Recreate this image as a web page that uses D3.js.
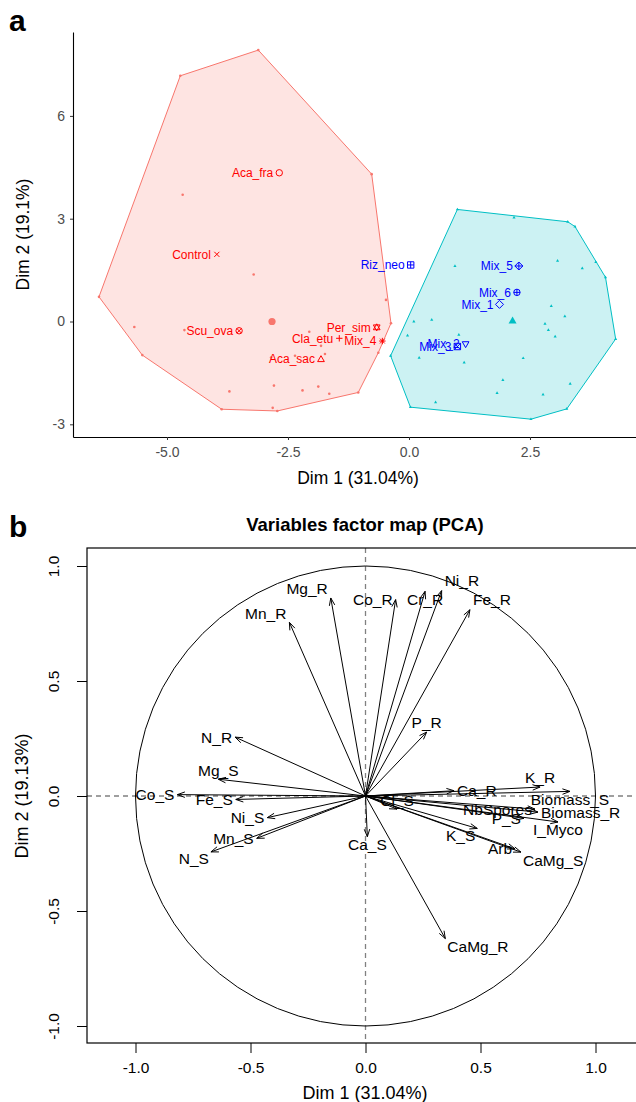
<!DOCTYPE html>
<html><head><meta charset="utf-8">
<script src="https://cdn.jsdelivr.net/npm/d3@7"></script>
<style>body{margin:0;background:#fff} text{font-family:"Liberation Sans",Arial,Helvetica,sans-serif}</style>
</head><body>
<svg id="c" width="636" height="1102"></svg>
<script>
// ---------------- Panel a data (individuals, Dim1 / Dim2) ----------------
const redIndX = [-4.725,-3.114,-0.771,-0.372,-0.634,-1.048,-2.721,-3.870,-5.510,-6.405,
  -4.676,-3.209,-5.675,-4.64,-0.475,-2.06,-1.818,-1.736,-2.355,-2.85,-2.79,-3.71,-2.20,-1.874,-1.647,-2.816];
const redIndY = [7.17,7.92,4.30,-0.05,-0.91,-2.07,-2.61,-2.56,-0.98,0.72,
  3.70,1.37,-0.16,-0.25,0.63,-0.30,-0.71,-0.95,-1.0,-1.05,-1.87,-2.04,-2.01,-1.90,-2.11,-2.52];
const blueIndX = [1.0,3.28,3.43,3.86,4.06,4.27,3.26,2.52,0.03,-0.38,
  2.17,0.95,3.07,3.58,2.94,3.22,2.81,2.88,3.02,0.10,0.47,-0.03,1.03,0.21,1.14,2.36,1.94,1.82,2.77,3.33,0.55];
const blueIndY = [3.27,2.91,2.77,1.73,1.29,-0.51,-2.55,-2.85,-2.50,-1.0,
  3.03,1.62,1.77,1.55,0.45,0.15,-0.07,-0.25,-0.44,0.0,0.05,-0.41,-0.39,-1.06,-1.20,-1.07,-1.71,-2.09,-2.13,-1.82,-2.36];
const groupCentroidX = [-2.83, 2.14];
const groupCentroidY = [0.0, 0.01];

// treatments (supplementary categories), alphabetical
const treatNames = ["Aca_fra","Aca_sac","Cla_etu","Control","Mix_1","Mix_2","Mix_3","Mix_4","Mix_5","Mix_6","Per_sim","Riz_neo","Scu_ova"];
const treatDim1  = [-2.68,-1.818,-1.44,-3.97,1.87,1.17,1.0,-0.55,2.27,2.23,-0.667,0.035,-3.51];
const treatDim2  = [4.34,-1.10,-0.49,1.96,0.50,-0.66,-0.73,-0.57,1.62,0.85,-0.17,1.65,-0.27];
const treatGroup = ["1","1","1","1","2","2","2","1","2","2","1","2","1"];

const aXTicks = [-5.0,-2.5,0.0,2.5];
const aYTicks = [-3,0,3,6];

// ---------------- Panel b data (variables) ----------------
const varNames = ["Mg_R","Mn_R","Co_R","Cr_R","Ni_R","Fe_R","P_R","N_R","Mg_S","Co_S","Fe_S","Ni_S","Mn_S","N_S",
  "Ca_S","Cl_S","CaMg_R","K_R","Ca_R","Biomass_S","NbSpores","Biomass_R","P_S","I_Myco","K_S","Arb","CaMg_S"];
const varDim1 = [-0.151,-0.331,0.131,0.259,0.331,0.454,0.266,-0.567,-0.64,-0.818,-0.564,-0.427,-0.473,-0.672,
  0.008,0.137,0.347,0.759,0.385,0.889,0.737,0.75,0.689,0.837,0.486,0.65,0.676];
const varDim2 = [0.861,0.755,0.854,0.890,0.893,0.810,0.278,0.256,0.073,0.006,-0.015,-0.094,-0.184,-0.243,
  -0.177,-0.057,-0.62,0.039,0.023,0.02,-0.057,-0.07,-0.097,-0.113,-0.141,-0.23,-0.244];
const bTicks = [-1.0,-0.5,0.0,0.5,1.0];

// label placement codes (layout)
const varLabelPos = ["NW","NW","W","S","NE","NE","N","W","N","W","W","W","W","SW",
  "S","N","SE","N","E","S","W","E","W","S","SW","W","SE"];

// ---------------- drawing ----------------
const svg = d3.select("#c");
const FONT = '"Liberation Sans",Arial,Helvetica,sans-serif';

// ===== Panel a =====
const xa = d3.scaleLinear().domain([-6.942, 4.835]).range([73, 643]);
const ya = d3.scaleLinear().domain([-3.37, 8.448]).range([437, 32]);
const colA = {"1":"#F8766D","2":"#00BFC4"};
const colLab = {"1":"#FF0000","2":"#0000FF"};

svg.append("text").attr("x",9).attr("y",31).attr("font-size",30).attr("font-weight","bold").text("a");

const gA = svg.append("g");
function hull(xs, ys){ return d3.polygonHull(xs.map((x,i)=>[xa(x), ya(ys[i])])); }
const hullR = hull(redIndX, redIndY), hullB = hull(blueIndX, blueIndY);
gA.append("path").attr("d","M"+hullR.join("L")+"Z").attr("fill","#F8766D").attr("fill-opacity",0.2)
  .attr("stroke","#F8766D").attr("stroke-width",1);
gA.append("path").attr("d","M"+hullB.join("L")+"Z").attr("fill","#00BFC4").attr("fill-opacity",0.2)
  .attr("stroke","#00BFC4").attr("stroke-width",1);

// individuals
redIndX.forEach((x,i)=>gA.append("circle").attr("cx",xa(x)).attr("cy",ya(redIndY[i])).attr("r",1.3).attr("fill","#F8766D"));
const tri = (cx,cy,s)=>`M${cx},${cy-s}L${cx+s*0.87},${cy+s*0.5}L${cx-s*0.87},${cy+s*0.5}Z`;
blueIndX.forEach((x,i)=>gA.append("path").attr("d",tri(xa(x),ya(blueIndY[i]),1.8)).attr("fill","#00BFC4"));
gA.append("circle").attr("cx",xa(groupCentroidX[0])).attr("cy",ya(groupCentroidY[0])).attr("r",3.6).attr("fill","#F8766D");
gA.append("path").attr("d",tri(xa(groupCentroidX[1]),ya(groupCentroidY[1]),4.6)).attr("fill","#00BFC4");

// shapes for supplementary categories (ggplot shape codes 1..13)
function shape(g, code, cx, cy, col){
  const r = 3.2, p = d3.path();
  const sq = ()=>{p.rect(cx-r,cy-r,2*r,2*r);};
  const pl = ()=>{p.moveTo(cx-r,cy);p.lineTo(cx+r,cy);p.moveTo(cx,cy-r);p.lineTo(cx,cy+r);};
  const cr = (k=r)=>{p.moveTo(cx-k,cy-k);p.lineTo(cx+k,cy+k);p.moveTo(cx-k,cy+k);p.lineTo(cx+k,cy-k);};
  const ci = ()=>{p.moveTo(cx+r,cy);p.arc(cx,cy,r,0,2*Math.PI);};
  const dm = ()=>{p.moveTo(cx,cy-r*1.25);p.lineTo(cx+r*1.25,cy);p.lineTo(cx,cy+r*1.25);p.lineTo(cx-r*1.25,cy);p.closePath();};
  const tu = ()=>{p.moveTo(cx,cy-r*1.1);p.lineTo(cx+r*1.05,cy+r*0.75);p.lineTo(cx-r*1.05,cy+r*0.75);p.closePath();};
  const td = ()=>{p.moveTo(cx,cy+r*1.1);p.lineTo(cx+r*1.05,cy-r*0.75);p.lineTo(cx-r*1.05,cy-r*0.75);p.closePath();};
  switch(code){
    case 1: ci(); break;
    case 2: tu(); break;
    case 3: pl(); break;
    case 4: cr(r*0.8); break;
    case 5: dm(); break;
    case 6: td(); break;
    case 7: sq(); cr(); break;
    case 8: pl(); cr(r*0.75); break;
    case 9: dm(); p.moveTo(cx-r*1.25,cy);p.lineTo(cx+r*1.25,cy);p.moveTo(cx,cy-r*1.25);p.lineTo(cx,cy+r*1.25); break;
    case 10: ci(); pl(); break;
    case 11: tu(); td(); break;
    case 12: sq(); pl(); break;
    case 13: ci(); cr(r*0.72); break;
  }
  g.append("path").attr("d",p.toString()).attr("fill","none").attr("stroke",col).attr("stroke-width",1);
}
treatNames.forEach((n,i)=>{
  const cx = xa(treatDim1[i]), cy = ya(treatDim2[i]), col = colLab[treatGroup[i]];
  shape(gA, i+1, cx, cy, col);
  gA.append("text").attr("x",cx-6).attr("y",cy).attr("dy","0.35em").attr("text-anchor","end")
    .attr("font-size",12).attr("fill",col).text(n);
});

// axes a
const axA = svg.append("g").attr("transform","translate(0,437)")
  .call(d3.axisBottom(xa).tickValues(aXTicks).tickFormat(d=>d.toFixed(1)).tickSize(3).tickSizeOuter(0).tickPadding(7));
const ayA = svg.append("g").attr("transform","translate(73,0)")
  .call(d3.axisLeft(ya).tickValues(aYTicks).tickFormat(d=>String(d)).tickSize(3).tickSizeOuter(0).tickPadding(5));
[axA, ayA].forEach(g=>{
  g.select(".domain").attr("stroke","#000").attr("stroke-width",1.1);
  g.selectAll(".tick line").attr("stroke","#333");
  g.selectAll(".tick text").attr("fill","#4D4D4D").attr("font-size",14).attr("font-family",FONT);
});
svg.append("text").attr("x",358).attr("y",484).attr("text-anchor","middle").attr("font-size",17.5).attr("fill","#000").text("Dim 1 (31.04%)");
svg.append("text").attr("transform","translate(29,234.5) rotate(-90)").attr("text-anchor","middle").attr("font-size",17.5).attr("fill","#000").text("Dim 2 (19.1%)");

// ===== Panel b =====
const xb = d3.scaleLinear().domain([-1.2109, 1.2152]).range([87, 645]);
const yb = d3.scaleLinear().domain([-1.0739, 1.0783]).range([1043, 548]);

svg.append("text").attr("x",9).attr("y",537).attr("font-size",30).attr("font-weight","bold").text("b");
svg.append("text").attr("x",365).attr("y",531).attr("text-anchor","middle").attr("font-size",18.5).attr("font-weight","bold").text("Variables factor map (PCA)");

const gB = svg.append("g");
// dashed reference lines
gB.append("line").attr("x1",87).attr("x2",645).attr("y1",yb(0)).attr("y2",yb(0))
  .attr("stroke","#808080").attr("stroke-width",1.3).attr("stroke-dasharray","5,4");
gB.append("line").attr("x1",xb(0)).attr("x2",xb(0)).attr("y1",548).attr("y2",1043)
  .attr("stroke","#808080").attr("stroke-width",1.3).attr("stroke-dasharray","5,4");
// unit circle
gB.append("ellipse").attr("cx",xb(0)).attr("cy",yb(0)).attr("rx",xb(1)-xb(0)).attr("ry",yb(0)-yb(1))
  .attr("fill","none").attr("stroke","#000").attr("stroke-width",1);

// arrows
function arrow(x0,y0,x1,y1){
  const L = 8, a = 20*Math.PI/180, t = Math.atan2(y1-y0,x1-x0);
  return `M${x0},${y0}L${x1},${y1}M${x1-L*Math.cos(t-a)},${y1-L*Math.sin(t-a)}L${x1},${y1}L${x1-L*Math.cos(t+a)},${y1-L*Math.sin(t+a)}`;
}
const offs = {W:[-3,0,"end"],E:[3,0,"start"],N:[0,-9,"middle"],S:[0,8,"middle"],
  NW:[-3,-9,"end"],NE:[3,-10,"start"],SW:[-2,7,"end"],SE:[2,8,"start"]};
varNames.forEach((n,i)=>{
  const x1 = xb(varDim1[i]), y1 = yb(varDim2[i]);
  gB.append("path").attr("d",arrow(xb(0),yb(0),x1,y1)).attr("fill","none").attr("stroke","#000").attr("stroke-width",1);
});
varNames.forEach((n,i)=>{
  const x1 = xb(varDim1[i]), y1 = yb(varDim2[i]), o = offs[varLabelPos[i]];
  gB.append("text").attr("x",x1+o[0]).attr("y",y1+o[1]).attr("dy","0.35em").attr("text-anchor",o[2])
    .attr("font-size",15.5).attr("fill","#000").text(n);
});

// box
svg.append("rect").attr("x",87).attr("y",548).attr("width",558).attr("height",495)
  .attr("fill","none").attr("stroke","#000").attr("stroke-width",1.2);

// axes b
const axB = svg.append("g").attr("transform","translate(0,1043)")
  .call(d3.axisBottom(xb).tickValues(bTicks).tickFormat(d=>d.toFixed(1)).tickSize(10).tickSizeOuter(0).tickPadding(9));
axB.select(".domain").remove();
axB.selectAll(".tick line").attr("stroke","#000");
axB.selectAll(".tick text").attr("fill","#000").attr("font-size",15.5).attr("font-family",FONT);
const ayB = svg.append("g").attr("transform","translate(87,0)")
  .call(d3.axisLeft(yb).tickValues(bTicks).tickFormat(d=>d.toFixed(1)).tickSize(10).tickSizeOuter(0));
ayB.select(".domain").remove();
ayB.selectAll(".tick line").attr("stroke","#000");
ayB.selectAll(".tick text").attr("x",-28).attr("dy",0).attr("text-anchor","middle")
  .attr("transform","rotate(-90)").attr("fill","#000").attr("font-size",15.5).attr("font-family",FONT)
  .attr("y",0);
// place rotated labels: rotate about tick origin
ayB.selectAll(".tick text").each(function(){
  d3.select(this).attr("transform","translate(-28,0) rotate(-90)").attr("x",0).attr("y",0);
});
svg.append("text").attr("x",365).attr("y",1099).attr("text-anchor","middle").attr("font-size",18).attr("fill","#000").text("Dim 1 (31.04%)");
svg.append("text").attr("transform","translate(28,796) rotate(-90)").attr("text-anchor","middle").attr("font-size",18).attr("fill","#000").text("Dim 2 (19.13%)");
</script>
</body></html>
